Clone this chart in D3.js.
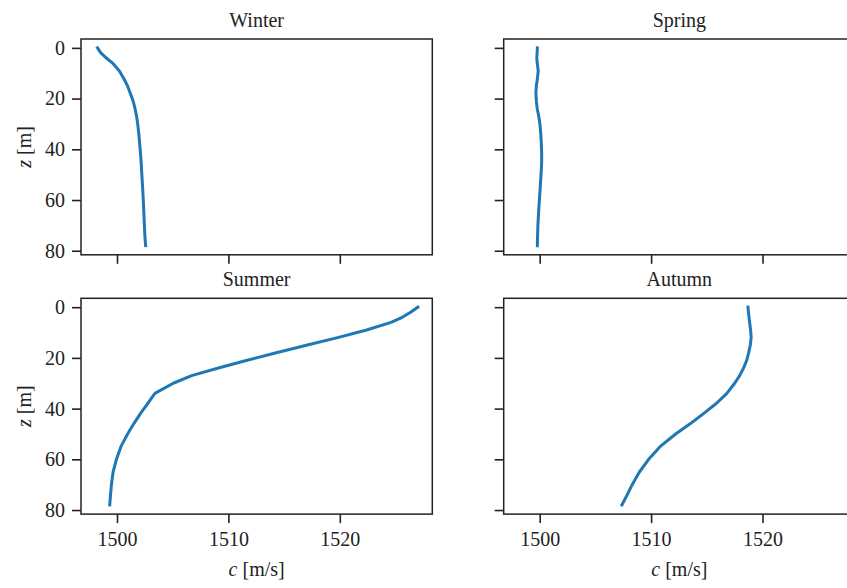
<!DOCTYPE html>
<html>
<head>
<meta charset="utf-8">
<script src="https://cdn.jsdelivr.net/npm/d3@7"></script>
<style>
  body { margin: 0; background: #fff; }
  text { font-family: "Liberation Serif", "DejaVu Serif", serif; fill: #222; }
</style>
</head>
<body>
<div id="chart"></div>
<script>
// depth grid (m) shared by all four profiles
const depths = [0, 2, 4, 6, 9, 12, 15, 18, 21, 24, 27, 30, 34, 38, 42, 46, 50, 55, 60, 65, 70, 74, 78]

// sound speed c (m/s)
const winter = [1498.25, 1498.55, 1499.05, 1499.6, 1500.2, 1500.6, 1500.95, 1501.2, 1501.45, 1501.62, 1501.76, 1501.86,
    1501.96, 1502.04, 1502.12, 1502.18, 1502.23, 1502.3, 1502.36, 1502.41, 1502.46, 1502.5, 1502.57]
const spring = [1499.79, 1499.77, 1499.74, 1499.78, 1499.87, 1499.8, 1499.7, 1499.66, 1499.7, 1499.78, 1499.92, 1500.02,
    1500.1, 1500.15, 1500.18, 1500.17, 1500.12, 1500.05, 1499.97, 1499.9, 1499.84, 1499.81, 1499.79]
const summer = [1527.0, 1526.35, 1525.6, 1524.6, 1522.4, 1519.8, 1517.0, 1514.3, 1511.6, 1509.1, 1506.7, 1505.05,
    1503.4, 1502.75, 1502.1, 1501.5, 1500.95, 1500.35, 1499.95, 1499.65, 1499.5, 1499.42, 1499.35]
const autumn = [1518.69, 1518.74, 1518.79, 1518.84, 1518.93, 1518.98, 1518.9, 1518.75, 1518.58, 1518.3, 1517.95, 1517.5,
    1516.8, 1515.85, 1514.7, 1513.5, 1512.2, 1510.8, 1509.78, 1508.95, 1508.3, 1507.85, 1507.38]

const seasons = ["Winter", "Spring", "Summer", "Autumn"]
const profiles = [winter, spring, summer, autumn]
const xTicks = [1500, 1510, 1520]
const yTicks = [0, 20, 40, 60, 80]

const width = 847
const height = 588
const lefts = [81, 503.7]
const tops = [39, 298.3]
const pw = 351.3
const ph = 215.8

const svg = d3.select("#chart")
    .append("svg")
    .attr("width", width)
    .attr("height", height)

const x0 = d3.scaleLinear().domain([1496.77, 1528.3]).range([0, pw])
const y0 = d3.scaleLinear().domain([-3.5, 81.6]).range([0, ph])

seasons.forEach((name, i) => {
    const col = i % 2
    const row = Math.floor(i / 2)
    const g = svg.append("g")
        .attr("transform", `translate(${lefts[col]},${tops[row]})`)

    // x axis (labels only on bottom row)
    g.append("g")
        .attr("transform", `translate(0,${ph})`)
        .call(d3.axisBottom(x0).tickValues(xTicks).tickSize(9).tickPadding(9)
            .tickFormat(row === 1 ? d => d : () => ""))
        .call(a => a.select(".domain").remove())
        .call(a => a.selectAll("line").attr("stroke", "#222").attr("stroke-width", 1.6))
        .call(a => a.selectAll("text").attr("font-size", 20).attr("font-family", null).attr("fill", "#222"))

    // y axis (labels only on left column)
    g.append("g")
        .call(d3.axisLeft(y0).tickValues(yTicks).tickSize(9).tickPadding(7)
            .tickFormat(col === 0 ? d => d : () => ""))
        .call(a => a.select(".domain").remove())
        .call(a => a.selectAll("line").attr("stroke", "#222").attr("stroke-width", 1.6))
        .call(a => a.selectAll("text").attr("font-size", 20).attr("font-family", null).attr("fill", "#222"))

    g.append("path")
        .datum(profiles[i])
        .attr("fill", "none")
        .attr("stroke", "#1f77b4")
        .attr("stroke-width", 3)
        .attr("stroke-linejoin", "round")
        .attr("stroke-linecap", "square")
        .attr("d", d3.line()
            .x(d => x0(d))
            .y((d, k) => y0(depths[k])))

    // spines
    g.append("rect")
        .attr("width", pw)
        .attr("height", ph)
        .attr("fill", "none")
        .attr("stroke", "#222")
        .attr("stroke-width", 1.5)

    g.append("text")
        .attr("x", pw / 2)
        .attr("y", -12.5)
        .attr("text-anchor", "middle")
        .attr("font-size", 20)
        .text(name)

    if (col === 0) {
        const lab = g.append("text")
            .attr("transform", `translate(${31 - lefts[0]},${ph / 2}) rotate(-90)`)
            .attr("text-anchor", "middle")
            .attr("font-size", 20)
        lab.append("tspan").attr("font-style", "italic").text("z")
        lab.append("tspan").text(" [m]")
    }
    if (row === 1) {
        const lab = g.append("text")
            .attr("x", pw / 2)
            .attr("y", ph + 62)
            .attr("text-anchor", "middle")
            .attr("font-size", 20)
        lab.append("tspan").attr("font-style", "italic").text("c")
        lab.append("tspan").text(" [m/s]")
    }
})
</script>
</body>
</html>
